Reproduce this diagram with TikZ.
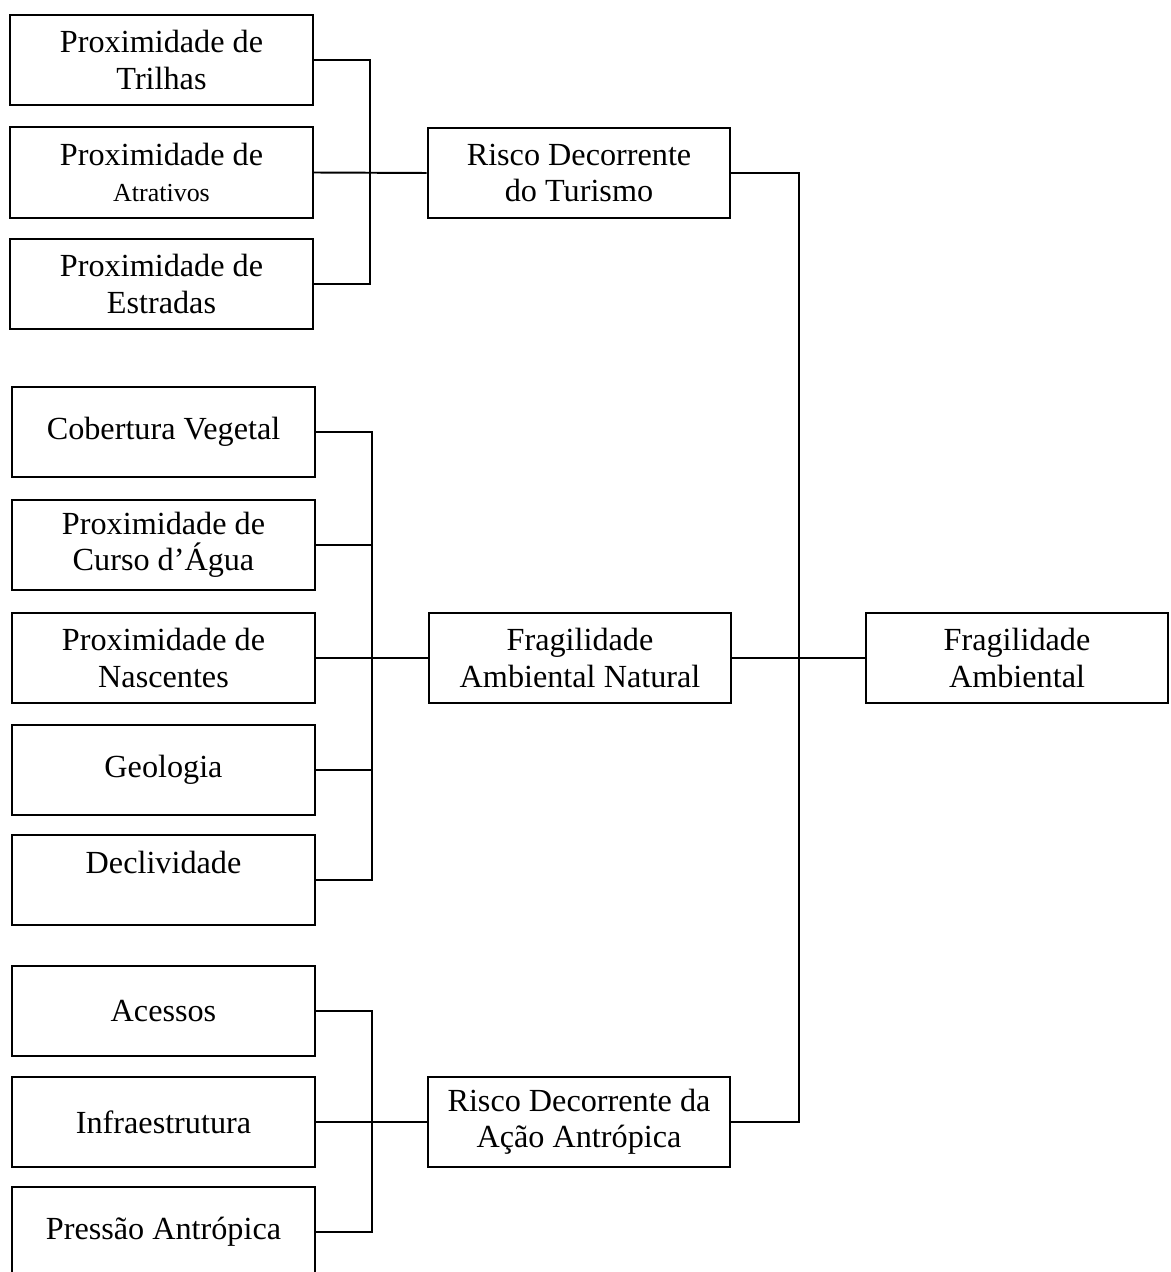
\documentclass[tikz,border=0pt]{standalone}
\usepackage{fontspec}
\setmainfont{Liberation Serif}
\tikzset{
  box/.style={draw, line width=0.75pt, minimum width=116.5pt, minimum height=34.8pt,
    inner sep=0pt, align=center, font=\fontsize{12.4}{13.9}\selectfont},
  link/.style={line width=0.75pt}
}
\begin{document}
\begin{tikzpicture}[x=0.385pt,y=-0.385pt]
    \useasboundingbox (0,0) rectangle (1170,1272);
    % risco decorrente do turismo
    \node[box] (trilhas) at (161.5,60) {Proximidade de\\Trilhas};
    \node[box] (atrativos) at (161.5,172.5) {Proximidade de\\{\fontsize{10}{12}\selectfont Atrativos}};
    \node[box] (estradas) at (161.5,284) {Proximidade de\\Estradas};
    \node[box] (turismo) at (579,173) {Risco Decorrente\\do Turismo};
    % fragilidade ambiental natural
    \node[box] (cobertura) at (163.5,432) {Cobertura Vegetal};
    \node[box] (curso) at (163.5,545) {Proximidade de\\Curso d’Água};
    \node[box] (nascentes) at (163.5,658) {Proximidade de\\Nascentes};
    \node[box] (geologia) at (163.5,770) {Geologia};
    \node[box] (declividade) at (163.5,880) {Declividade\\\phantom{D}};
    \node[box] (natural) at (580,658) {Fragilidade\\Ambiental Natural};
    % risco decorrente da acao antropica
    \node[box] (acessos) at (163.5,1011) {Acessos};
    \node[box] (infra) at (163.5,1122) {Infraestrutura};
    \node[box] (pressao) at (163.5,1232) {Pressão Antrópica};
    \node[box] (antropica) at (579,1122) {Risco Decorrente da\\Ação Antrópica};
    \node[box] (ambiental) at (1017,658) {Fragilidade\\Ambiental};

    \coordinate (bustur) at (370,173);
    \coordinate (busnat) at (372,658);
    \coordinate (busant) at (372,1122);
    \coordinate (busamb) at (799,658);

    \draw[link] (trilhas.east) -| (bustur) |- (estradas.east);
    \draw[link] (atrativos.east) -- (turismo.west);
    \draw[link] (cobertura.east) -| (busnat) |- (declividade.east);
    \draw[link] (curso.east) -- (curso.east -| busnat);
    \draw[link] (geologia.east) -- (geologia.east -| busnat);
    \draw[link] (nascentes.east) -- (natural.west);
    \draw[link] (acessos.east) -| (busant) |- (pressao.east);
    \draw[link] (infra.east) -- (antropica.west);
    \draw[link] (turismo.east) -| (busamb) |- (antropica.east);
    \draw[link] (natural.east) -- (ambiental.west);
\end{tikzpicture}
\end{document}
